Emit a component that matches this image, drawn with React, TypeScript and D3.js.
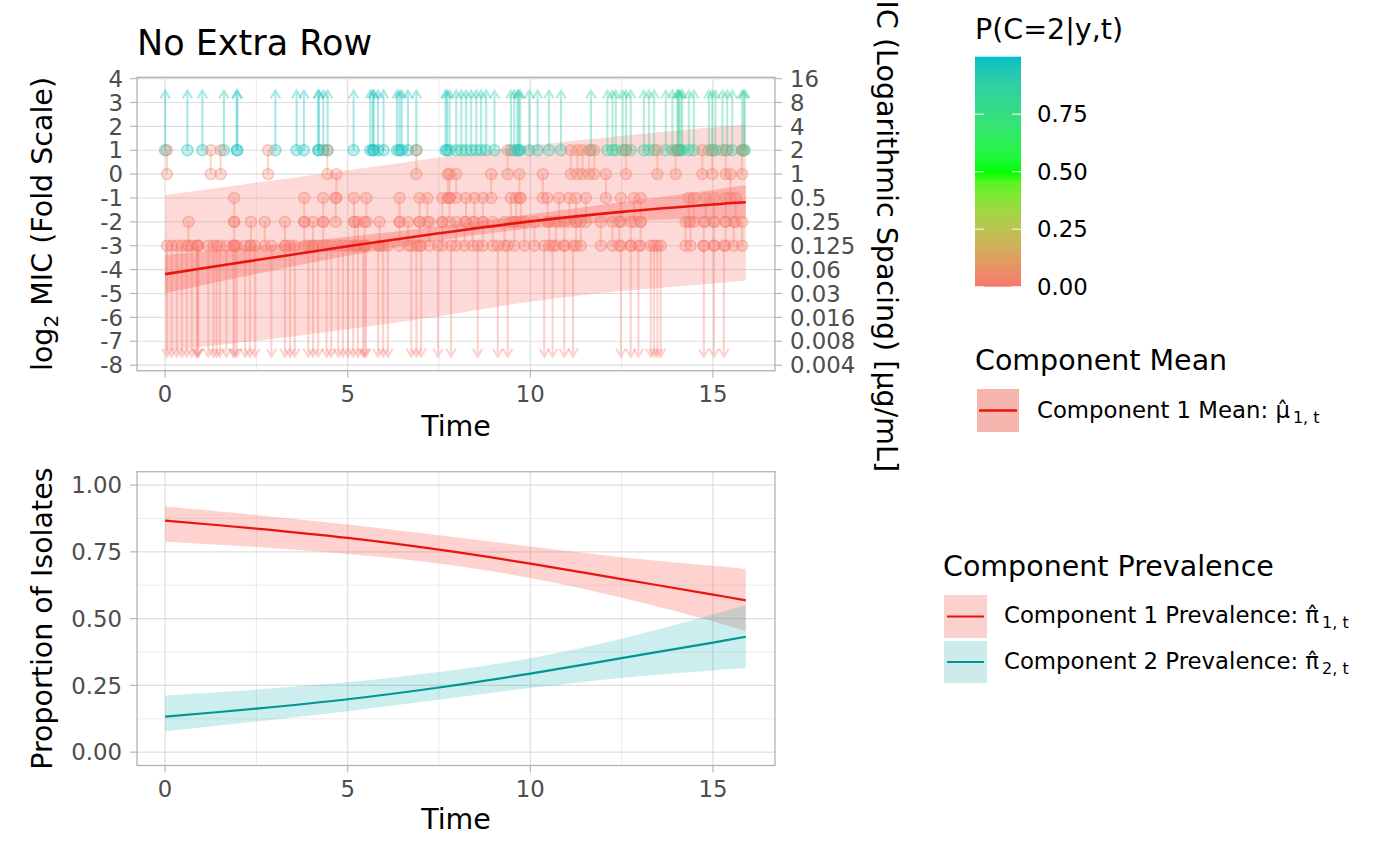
import React from "react";
import * as d3 from "d3";

const FONT = "'DejaVu Sans', sans-serif";

// ---------------- data ----------------
// right-censored observations (MIC > 1 on log2 scale), drawn as arrows up
const rightCensEarly = [0.0, 0.61, 1.02, 1.61, 1.96, 1.98, 3.02, 3.6, 3.8, 4.19, 4.21, 4.33, 4.45, 5.16, 5.62, 5.69, 5.71, 5.83, 5.98, 6.35, 6.42, 6.48, 6.65, 6.88, 7.68, 7.72];
const rightCensMid = [7.79, 7.97, 8.11, 8.24, 8.38, 8.52, 8.65, 8.79, 9.02, 9.47, 9.56, 9.65, 9.68, 9.72, 9.97, 10.2, 10.51, 10.84, 11.66];
const rightCensLate = [12.11, 12.25, 12.34, 12.53, 12.62, 12.75, 13.11, 13.25, 13.39, 13.71, 13.89, 14.03, 14.05, 14.07, 14.12, 14.16, 14.34, 14.48, 14.89, 14.98, 15.07, 15.26, 15.39, 15.53, 15.8, 15.85, 15.87];
const pRightEarly = 0.98;
const pRightMid = 0.92;
const pRightLate = 0.86;

// left-censored observations (MIC <= -3), drawn as arrows down
const leftCensTimes = [0.05, 0.18, 0.32, 0.46, 0.59, 0.73, 0.87, 0.89, 0.91, 1.18, 1.32, 1.41, 1.5, 1.68, 1.87, 1.9, 1.96, 2.19, 2.32, 2.46, 2.91, 3.28, 3.42, 3.55, 3.92, 4.05, 4.19, 4.42, 4.55, 4.74, 4.87, 5.01, 5.15, 5.28, 5.42, 5.46, 5.5, 5.83, 5.97, 6.1, 6.74, 6.88, 7.01, 7.47, 7.83, 8.56, 9.11, 9.38, 10.38, 10.61, 10.93, 11.17, 12.48, 12.75, 12.96, 13.3, 13.39, 13.48, 13.57, 14.75, 15.03, 15.3];
const pLeft = 0.0;

// interval-censored observations (lower, upper] on log2 scale
const int0to1Times = [0.05, 1.25, 1.52, 2.82, 4.44, 6.88, 9.38, 11.11, 11.29, 11.43, 11.61, 11.75, 12.62, 13.48, 13.98, 14.71, 14.98, 15.35, 15.8];
const intM1to0Times = [4.69, 7.74, 7.79, 7.97, 8.93, 9.7, 10.34, 12.07, 15.48];
const intM2toM1Times = [1.89, 3.81, 4.33, 4.67, 5.17, 5.51, 6.42, 6.97, 7.18, 7.59, 7.79, 8.24, 8.47, 8.7, 9.47, 9.61, 9.74, 10.47, 10.79, 11.07, 11.25, 11.52, 12.48, 12.84, 13.02, 14.34, 14.48, 14.8, 15.03, 15.35, 15.62];
const intM3toM2Times = [0.64, 1.89, 2.35, 2.73, 3.28, 3.81, 4.05, 4.33, 5.19, 5.28, 5.46, 5.87, 6.42, 6.65, 6.97, 7.24, 7.59, 7.97, 8.2, 8.42, 8.7, 8.97, 9.29, 9.56, 9.84, 10.11, 10.52, 10.7, 10.93, 11.25, 11.38, 11.93, 12.25, 12.43, 12.75, 13.02, 14.25, 14.39, 14.75, 15.03, 15.35, 15.57, 15.8];
const pInterval0to1 = 0.03;
const pInterval = 0.01;

const censorUpper = 1;
const censorLower = -3;
const arrowTipUp = 3.5;
const arrowTipDown = -7.65;

// component 1 mean with confidence band and prediction band
const meanTimes = [0, 2.5, 5, 7.5, 10, 12.5, 15, 15.9];
const mean1 = [-4.19, -3.6, -3.02, -2.48, -1.98, -1.58, -1.27, -1.18];
const mean1CiLo = [-4.99, -4.18, -3.42, -2.78, -2.28, -1.98, -1.87, -1.9];
const mean1CiHi = [-3.39, -3.02, -2.62, -2.18, -1.68, -1.18, -0.67, -0.46];
const mean1PiLo = [-7.4, -6.98, -6.5, -5.95, -5.35, -4.9, -4.58, -4.46];
const mean1PiHi = [-0.88, -0.36, 0.16, 0.7, 1.2, 1.6, 1.96, 2.08];

// component prevalence
const prevTimes = [0, 2.5, 5, 7.5, 10, 12.5, 15, 15.9];
const prev1 = [0.867, 0.837, 0.802, 0.758, 0.706, 0.648, 0.59, 0.568];
const prev1Lo = [0.788, 0.768, 0.742, 0.706, 0.652, 0.578, 0.49, 0.452];
const prev1Hi = [0.92, 0.888, 0.852, 0.812, 0.77, 0.73, 0.698, 0.686];
const prev2 = [0.133, 0.163, 0.198, 0.242, 0.294, 0.352, 0.41, 0.432];
const prev2Lo = [0.078, 0.115, 0.153, 0.196, 0.24, 0.278, 0.306, 0.315];
const prev2Hi = [0.212, 0.235, 0.262, 0.3, 0.352, 0.425, 0.515, 0.552];

// axes
const xTicks = [0, 5, 10, 15];
const xMinor = [2.5, 7.5, 12.5];
const yTopTicks = [-8, -7, -6, -5, -4, -3, -2, -1, 0, 1, 2, 3, 4];
const yTopRightLabels = ["0.004", "0.008", "0.016", "0.03", "0.06", "0.125", "0.25", "0.5", "1", "2", "4", "8", "16"];
const yBotTicks = [0, 0.25, 0.5, 0.75, 1];
const yBotLabels = ["0.00", "0.25", "0.50", "0.75", "1.00"];
const yBotMinor = [0.125, 0.375, 0.625, 0.875];
const colorbarTicks = [0, 0.25, 0.5, 0.75];
const colorbarLabels = ["0.00", "0.25", "0.50", "0.75"];

// ---------------- layout ----------------
const L = 137, R = 775;
const TOP1 = 77.3, BOT1 = 370.7;
const TOP2 = 471.7, BOT2 = 765.5;

const GRID = "#DEDEDE";
const BORDER = "#B3B3B3";
const TICKTXT = "#4D4D4D";
const RED_LINE = "#E8150C";
const TEAL_LINE = "#009696";
const SALMON = "#F8766D";

type Obs = { t: number; lo: number; hi: number; p: number };

export default function App() {
  const x = d3.scaleLinear().domain([-0.77, 16.7]).range([L, R]);
  const yT = d3.scaleLinear().domain([-8.234, 4.055]).range([BOT1, TOP1]);
  const yB = d3.scaleLinear().domain([-0.05, 1.05]).range([BOT2, TOP2]);
  const col = d3
    .scaleLinear<string>()
    .domain([0, 0.5, 1])
    .range([SALMON, "#00FF00", "#00BFC4"])
    .interpolate(d3.interpolateLab);

  const obs: Obs[] = [];
  rightCensEarly.forEach((t) => obs.push({ t, lo: censorUpper, hi: Infinity, p: pRightEarly }));
  rightCensMid.forEach((t) => obs.push({ t, lo: censorUpper, hi: Infinity, p: pRightMid }));
  rightCensLate.forEach((t) => obs.push({ t, lo: censorUpper, hi: Infinity, p: pRightLate }));
  leftCensTimes.forEach((t) => obs.push({ t, lo: -Infinity, hi: censorLower, p: pLeft }));
  int0to1Times.forEach((t) => obs.push({ t, lo: 0, hi: 1, p: pInterval0to1 }));
  intM1to0Times.forEach((t) => obs.push({ t, lo: -1, hi: 0, p: pInterval }));
  intM2toM1Times.forEach((t) => obs.push({ t, lo: -2, hi: -1, p: pInterval }));
  intM3toM2Times.forEach((t) => obs.push({ t, lo: -3, hi: -2, p: pInterval }));

  const curve = d3.curveCatmullRom.alpha(0.5);
  const mk = (ts: number[], ys: number[]) => ts.map((t, i) => ({ t, v: ys[i] }));
  const lineTop = d3
    .line<{ t: number; v: number }>()
    .x((d) => x(d.t))
    .y((d) => yT(d.v))
    .curve(curve);
  const areaTop = (lo: number[], hi: number[]) =>
    d3
      .area<number>()
      .x((t) => x(t))
      .y0((_, i) => yT(lo[i]))
      .y1((_, i) => yT(hi[i]))
      .curve(curve)(meanTimes) || "";
  const lineBot = d3
    .line<{ t: number; v: number }>()
    .x((d) => x(d.t))
    .y((d) => yB(d.v))
    .curve(curve);
  const areaBot = (lo: number[], hi: number[]) =>
    d3
      .area<number>()
      .x((t) => x(t))
      .y0((_, i) => yB(lo[i]))
      .y1((_, i) => yB(hi[i]))
      .curve(curve)(prevTimes) || "";

  const arrowHead = (px: number, py: number, dir: number) => {
    const w = 4.8, h = 8;
    return `M${px - w},${py + dir * h}L${px},${py}L${px + w},${py + dir * h}`;
  };

  const gridTop = (
    <g>
      {xMinor.map((t) => (
        <line key={"xm" + t} x1={x(t)} x2={x(t)} y1={TOP1} y2={BOT1} stroke={GRID} strokeWidth={0.6} />
      ))}
      {yTopTicks.map((v) => (
        <line key={"y" + v} x1={L} x2={R} y1={yT(v)} y2={yT(v)} stroke={GRID} strokeWidth={1.2} />
      ))}
      {xTicks.map((t) => (
        <line key={"x" + t} x1={x(t)} x2={x(t)} y1={TOP1} y2={BOT1} stroke={GRID} strokeWidth={1.2} />
      ))}
    </g>
  );

  const gridBot = (
    <g>
      {xMinor.map((t) => (
        <line key={"xm" + t} x1={x(t)} x2={x(t)} y1={TOP2} y2={BOT2} stroke={GRID} strokeWidth={0.6} />
      ))}
      {yBotMinor.map((v) => (
        <line key={"ym" + v} x1={L} x2={R} y1={yB(v)} y2={yB(v)} stroke={GRID} strokeWidth={0.6} />
      ))}
      {yBotTicks.map((v) => (
        <line key={"y" + v} x1={L} x2={R} y1={yB(v)} y2={yB(v)} stroke={GRID} strokeWidth={1.2} />
      ))}
      {xTicks.map((t) => (
        <line key={"x" + t} x1={x(t)} x2={x(t)} y1={TOP2} y2={BOT2} stroke={GRID} strokeWidth={1.2} />
      ))}
    </g>
  );

  const xAxis = (bottom: number, labelBase: number) => (
    <g>
      {xTicks.map((t) => (
        <g key={t}>
          <line x1={x(t)} x2={x(t)} y1={bottom} y2={bottom + 7} stroke={BORDER} strokeWidth={1.1} />
          <text x={x(t)} y={labelBase} textAnchor="middle" fontSize={22.8} fill={TICKTXT} fontFamily={FONT}>
            {t}
          </text>
        </g>
      ))}
    </g>
  );

  // colorbar gradient stops
  const stops = d3.range(0, 1.0001, 0.05);
  const cbX = 975, cbW = 46, cbTop = 56.7, cbBot = 286.7;
  const cbY = d3.scaleLinear().domain([0, 1]).range([cbBot, cbTop]);

  return (
    <svg
      width={1400}
      height={865}
      style={{ position: "absolute", left: 0, top: 0, display: "block" }}
      fontFamily={FONT}
    >
      <defs>
        <linearGradient id="cbar" x1="0" y1="1" x2="0" y2="0">
          {stops.map((s) => (
            <stop key={s} offset={s} stopColor={col(s)} />
          ))}
        </linearGradient>
        <clipPath id="clipTop">
          <rect x={L} y={TOP1} width={R - L} height={BOT1 - TOP1} />
        </clipPath>
        <clipPath id="clipBot">
          <rect x={L} y={TOP2} width={R - L} height={BOT2 - TOP2} />
        </clipPath>
      </defs>
      <rect x={0} y={0} width={1400} height={865} fill="#FFFFFF" />

      {/* ---------------- top panel ---------------- */}
      <text x={L} y={55} fontSize={35} fill="#000">
        No Extra Row
      </text>
      {gridTop}
      <g clipPath="url(#clipTop)">
        <path d={areaTop(mean1PiLo, mean1PiHi)} fill={SALMON} fillOpacity={0.27} />
        <path d={areaTop(mean1CiLo, mean1CiHi)} fill={SALMON} fillOpacity={0.42} />
        {obs.map((o, i) => {
          const c = col(o.p);
          const px = x(o.t);
          if (o.hi === Infinity) {
            const y0 = yT(o.lo), y1 = yT(arrowTipUp);
            return (
              <g key={"s" + i} opacity={0.36} stroke={c} strokeWidth={2.1} fill="none">
                <line x1={px} x2={px} y1={y0} y2={y1} />
                <path d={arrowHead(px, y1, 1)} />
              </g>
            );
          }
          if (o.lo === -Infinity) {
            const y0 = yT(o.hi), y1 = yT(arrowTipDown);
            return (
              <g key={"s" + i} opacity={0.32} stroke={c} strokeWidth={2.1} fill="none">
                <line x1={px} x2={px} y1={y0} y2={y1} />
                <path d={arrowHead(px, y1, -1)} />
              </g>
            );
          }
          return (
            <line key={"s" + i} x1={px} x2={px} y1={yT(o.lo)} y2={yT(o.hi)} stroke={c} strokeOpacity={0.32} strokeWidth={2.1} />
          );
        })}
        {obs.map((o, i) => {
          const c = col(o.p);
          const px = x(o.t);
          const vals: number[] = [];
          if (isFinite(o.lo)) vals.push(o.lo);
          if (isFinite(o.hi)) vals.push(o.hi);
          return vals.map((v, j) => (
            <circle
              key={"c" + i + "_" + j}
              cx={px}
              cy={yT(v)}
              r={5.5}
              fill={c}
              fillOpacity={0.26}
              stroke={c}
              strokeOpacity={0.42}
              strokeWidth={1.4}
            />
          ));
        })}
        <path d={lineTop(mk(meanTimes, mean1)) || ""} fill="none" stroke={RED_LINE} strokeWidth={2.6} />
      </g>
      <rect x={L} y={TOP1} width={R - L} height={BOT1 - TOP1} fill="none" stroke={BORDER} strokeWidth={1.3} />
      {/* left y axis */}
      {yTopTicks.map((v) => (
        <g key={"l" + v}>
          <line x1={L - 7} x2={L} y1={yT(v)} y2={yT(v)} stroke={BORDER} strokeWidth={1.1} />
          <text x={123} y={yT(v)} dy="0.36em" textAnchor="end" fontSize={22.8} fill={TICKTXT}>
            {v}
          </text>
        </g>
      ))}
      {/* right y axis */}
      {yTopTicks.map((v, i) => (
        <g key={"r" + v}>
          <line x1={R} x2={R + 7} y1={yT(v)} y2={yT(v)} stroke={BORDER} strokeWidth={1.1} />
          <text x={790} y={yT(v)} dy="0.36em" textAnchor="start" fontSize={22.8} fill={TICKTXT}>
            {yTopRightLabels[i]}
          </text>
        </g>
      ))}
      {xAxis(BOT1, 402)}
      <text x={(L + R) / 2} y={436} textAnchor="middle" fontSize={28.5} fill="#000">
        Time
      </text>
      <text
        transform={`translate(52,${(TOP1 + BOT1) / 2}) rotate(-90)`}
        textAnchor="middle"
        fontSize={28.5}
        fill="#000"
      >
        log
        <tspan fontSize={20} dy={6}>
          2
        </tspan>
        <tspan dy={-6}> MIC (Fold Scale)</tspan>
      </text>
      <text
        transform={`translate(877,${(TOP1 + BOT1) / 2}) rotate(90)`}
        textAnchor="middle"
        fontSize={28.5}
        fill="#000"
      >
        MIC (Logarithmic Spacing) [µg/mL]
      </text>

      {/* ---------------- bottom panel ---------------- */}
      {gridBot}
      <g clipPath="url(#clipBot)">
        <path d={areaBot(prev1Lo, prev1Hi)} fill={SALMON} fillOpacity={0.33} />
        <path d={areaBot(prev2Lo, prev2Hi)} fill="#00A9A9" fillOpacity={0.2} />
        <path d={lineBot(mk(prevTimes, prev1)) || ""} fill="none" stroke={RED_LINE} strokeWidth={2.2} />
        <path d={lineBot(mk(prevTimes, prev2)) || ""} fill="none" stroke={TEAL_LINE} strokeWidth={2.2} />
      </g>
      <rect x={L} y={TOP2} width={R - L} height={BOT2 - TOP2} fill="none" stroke={BORDER} strokeWidth={1.3} />
      {yBotTicks.map((v, i) => (
        <g key={"lb" + v}>
          <line x1={L - 7} x2={L} y1={yB(v)} y2={yB(v)} stroke={BORDER} strokeWidth={1.1} />
          <text x={122} y={yB(v)} dy="0.36em" textAnchor="end" fontSize={22.8} fill={TICKTXT}>
            {yBotLabels[i]}
          </text>
        </g>
      ))}
      {xAxis(BOT2, 797)}
      <text x={(L + R) / 2} y={829} textAnchor="middle" fontSize={28.5} fill="#000">
        Time
      </text>
      <text
        transform={`translate(52,${(TOP2 + BOT2) / 2}) rotate(-90)`}
        textAnchor="middle"
        fontSize={28.5}
        fill="#000"
      >
        Proportion of Isolates
      </text>

      {/* ---------------- legends ---------------- */}
      <text x={975} y={39} fontSize={28.5} fill="#000">
        P(C=2|y,t)
      </text>
      <rect x={cbX} y={cbTop} width={cbW} height={cbBot - cbTop} fill="url(#cbar)" />
      {colorbarTicks.map((v, i) => (
        <g key={"cb" + v}>
          <line x1={cbX} x2={cbX + 9} y1={cbY(v)} y2={cbY(v)} stroke="#FFFFFF" strokeOpacity={0.8} strokeWidth={1.2} />
          <line x1={cbX + cbW - 9} x2={cbX + cbW} y1={cbY(v)} y2={cbY(v)} stroke="#FFFFFF" strokeOpacity={0.8} strokeWidth={1.2} />
          <text x={1037} y={cbY(v)} dy="0.36em" fontSize={22.8} fill="#000">
            {colorbarLabels[i]}
          </text>
        </g>
      ))}

      <text x={975} y={370} fontSize={28.5} fill="#000">
        Component Mean
      </text>
      <rect x={977} y={389} width={42} height={43} fill="#F7B5B0" />
      <line x1={979} x2={1017} y1={410.5} y2={410.5} stroke={RED_LINE} strokeWidth={2.6} />
      <text x={1037} y={418} fontSize={22.8} fill="#000">
        Component 1 Mean: <tspan>μ̂</tspan>
        <tspan fontSize={16} dx={3} dy={5}>
          1, t
        </tspan>
      </text>

      <text x={943} y={576} fontSize={28.5} fill="#000">
        Component Prevalence
      </text>
      <rect x={944} y={595} width={43} height={43} fill="#FAD1CF" />
      <line x1={947} x2={984} y1={616.5} y2={616.5} stroke={RED_LINE} strokeWidth={2.2} />
      <rect x={944} y={641} width={43} height={42} fill="#CCEBEA" />
      <line x1={947} x2={984} y1={662} y2={662} stroke={TEAL_LINE} strokeWidth={2.2} />
      <text x={1004} y={623} fontSize={22.8} fill="#000">
        Component 1 Prevalence: <tspan>π̂</tspan>
        <tspan fontSize={16} dx={3} dy={5}>
          1, t
        </tspan>
      </text>
      <text x={1004} y={669} fontSize={22.8} fill="#000">
        Component 2 Prevalence: <tspan>π̂</tspan>
        <tspan fontSize={16} dx={3} dy={5}>
          2, t
        </tspan>
      </text>
    </svg>
  );
}
